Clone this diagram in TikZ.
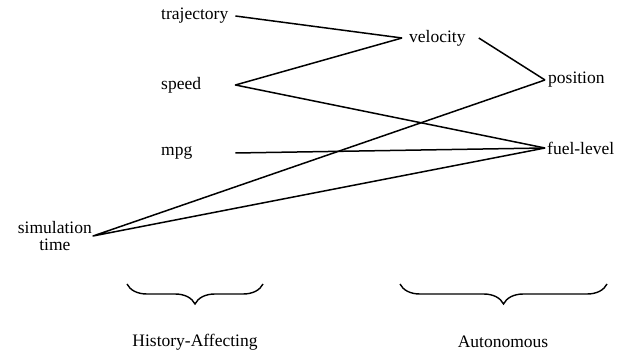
\documentclass[tikz,border=0pt]{standalone}
\usepackage{fontspec}
\setmainfont{Liberation Serif}
\newfontfamily\figfont{Liberation Serif}
\usetikzlibrary{decorations.pathreplacing}
\begin{document}
\begin{tikzpicture}[x=1pt,y=-1pt,
  every node/.style={font=\figfont\fontsize{17.5}{19}\selectfont},
  leftcol/.style={anchor=west,text width=72pt,align=left,inner xsep=2pt,inner ysep=1pt},
  rightcol/.style={anchor=west,inner xsep=3pt,inner ysep=1pt},
  conn/.style={line width=1.5pt,line join=round},
  bracestyle/.style={line width=1.4pt,decorate,decoration={brace,amplitude=20pt,aspect=0.5}}]
\useasboundingbox (0,0) rectangle (627,355);
% left column
\node[leftcol] (traj) at (159,16) {trajectory};
\node[leftcol] (speed) at (159,85) {speed};
\node[leftcol] (mpg) at (159,153) {mpg};
\node[anchor=east,align=center,inner sep=1pt] (sim) at (93,236) {simulation\\[-2pt]time};
% middle / right
\node[rightcol,inner xsep=7pt] (vel) at (402,38) {velocity};
\node[rightcol] (pos) at (545,80) {position};
\node[rightcol,inner xsep=2pt] (fuel) at (545,148) {fuel-level};
% connectors
\draw[conn] (traj.east) -- (vel.west);
\draw[conn] (vel.west) -- (speed.east) -- (fuel.west);
\draw[conn] ([xshift=6pt]vel.east) -- (pos.west);
\draw[conn] (mpg.east) -- (fuel.west);
\draw[conn] (pos.west) -- (sim.east) -- (fuel.west);
% braces
\coordinate (b1r) at (263,284);
\coordinate (b1l) at (127,284);
\coordinate (b2r) at (607,284);
\coordinate (b2l) at (400,284);
\draw[bracestyle] (b1r) -- (b1l);
\draw[bracestyle] (b2r) -- (b2l);
\node (lab1) at (195,342) {History-Affecting};
\node (lab2) at (503,342) {Autonomous};
\end{tikzpicture}
\end{document}
